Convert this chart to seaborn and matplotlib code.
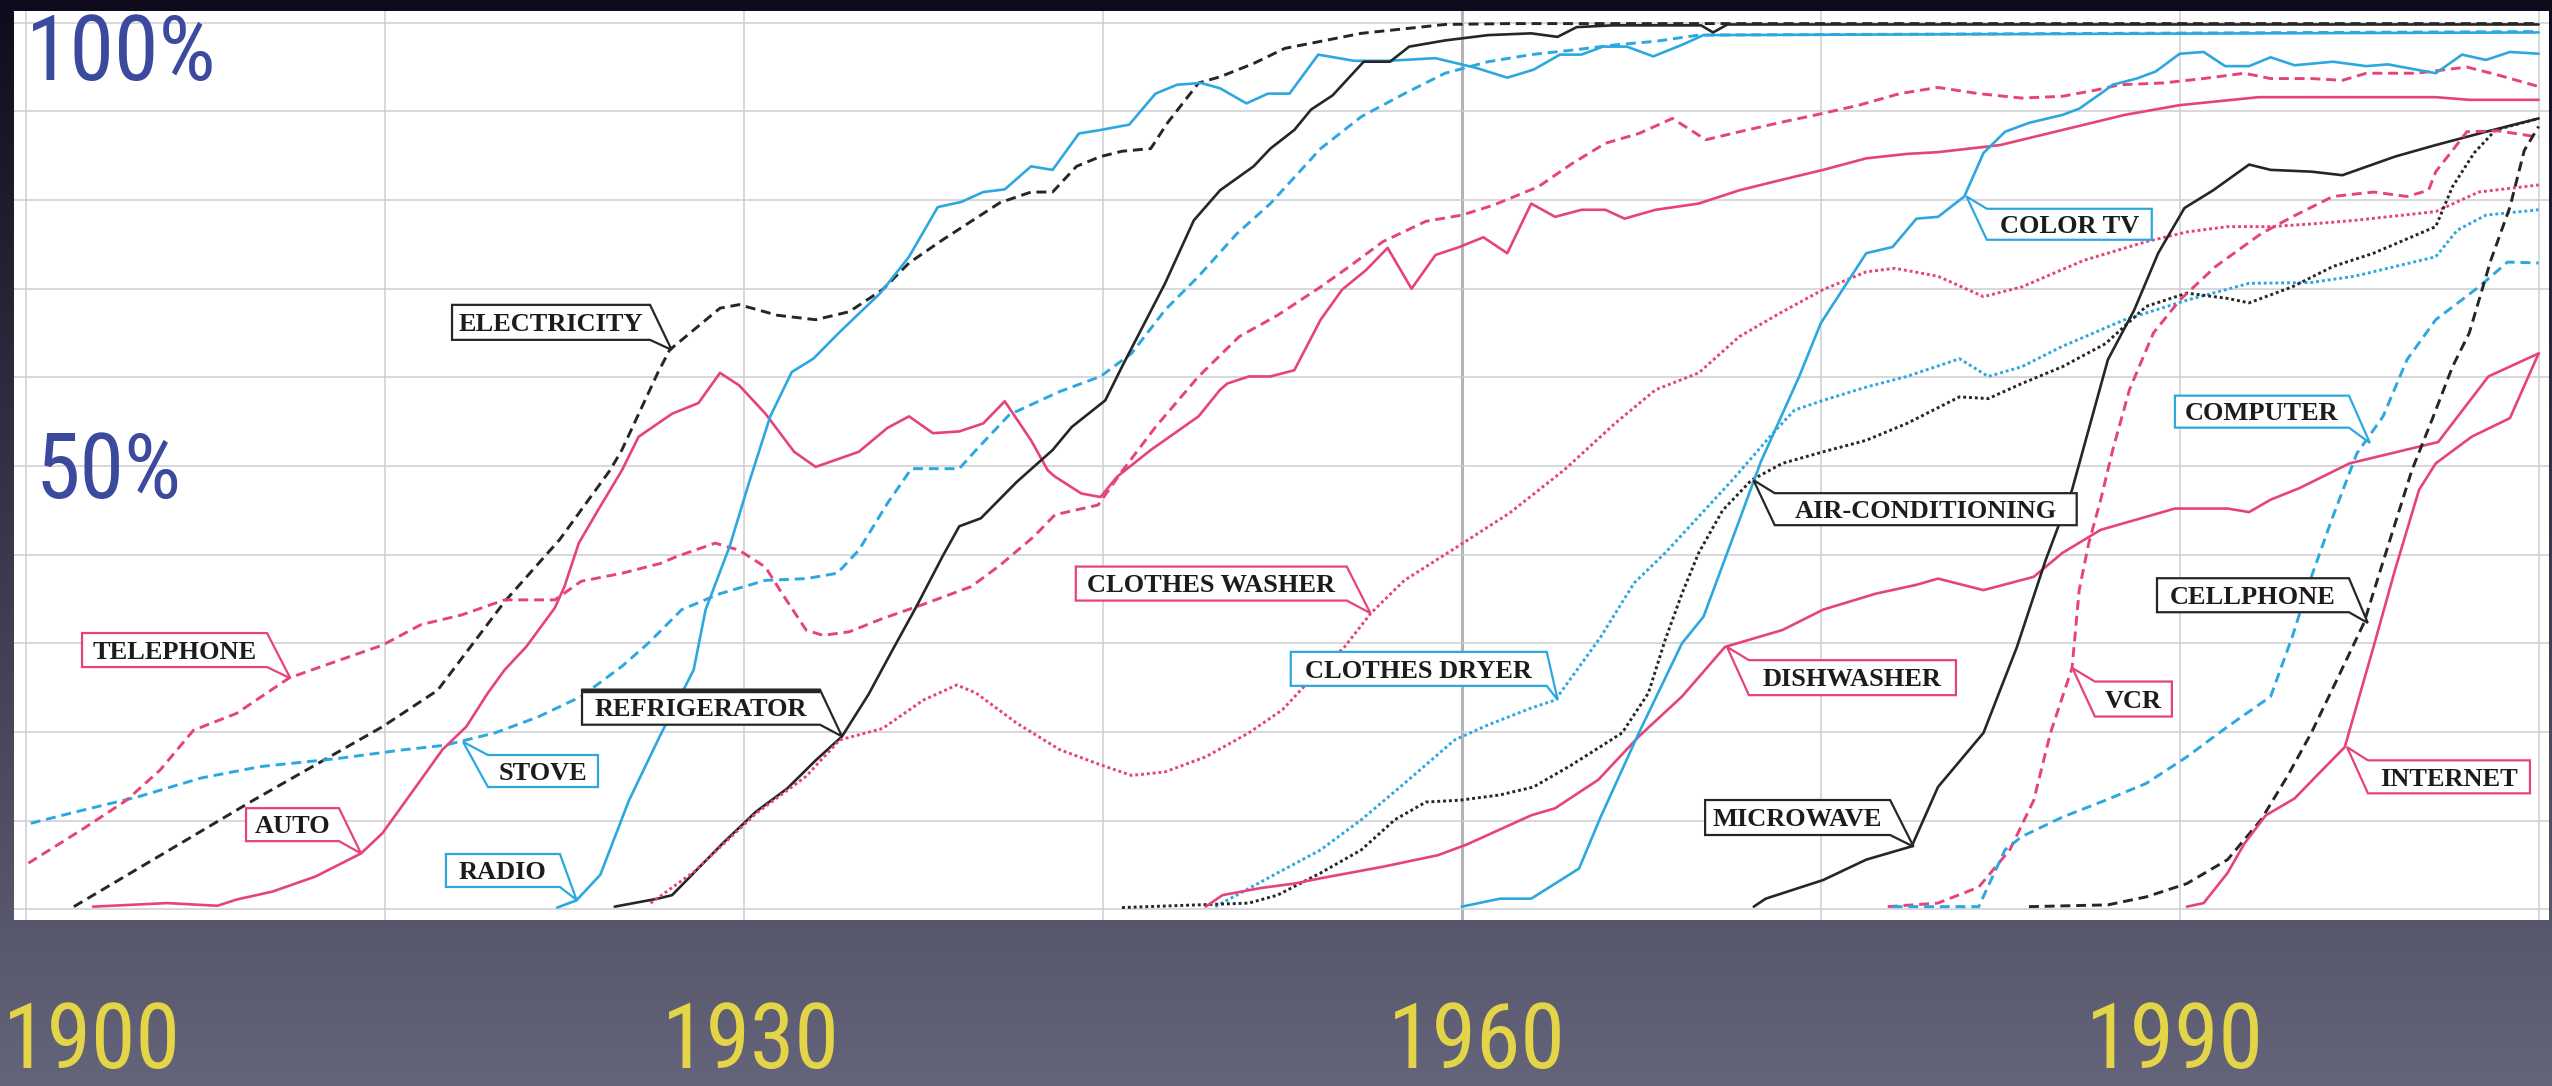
import numpy as np
import matplotlib
matplotlib.use("Agg")
import matplotlib.pyplot as plt
import seaborn as sns
from matplotlib import font_manager
from matplotlib.font_manager import FontProperties
from matplotlib.patches import Polygon
from matplotlib.lines import Line2D

# ------------------------------------------------------------------ data
electricity_year = [1902.0, 1909.5, 1914.9, 1917.2, 1920.0, 1922.3, 1924.4, 1924.9, 1926.4, 1926.9, 1929.0, 1929.8,
                    1931.4, 1933.0, 1934.4, 1935.8, 1936.9, 1938.3, 1940.7, 1942.0, 1942.9, 1943.9, 1944.9, 1945.8,
                    1947.0, 1947.7, 1949.0, 1949.9, 1951.3, 1952.6, 1955.8, 1959.3, 1962.0, 2005.0]
electricity_pct = [0.3, 12.3, 20.6, 24.7, 34.7, 41.7, 49.5, 51.8, 60.5, 63.1, 67.8, 68.2,
                   67.0, 66.5, 67.4, 69.9, 72.9, 75.5, 79.7, 80.9, 80.9, 83.8, 84.9, 85.5,
                   85.8, 88.7, 93.2, 93.9, 95.4, 97.1, 98.8, 99.8, 99.9, 99.9]

radio_year = [1922.2, 1923.0, 1924.0, 1925.2, 1926.5, 1927.9, 1928.4, 1929.4, 1930.2, 1931.1, 1932.0, 1932.9,
              1934.0, 1935.7, 1936.9, 1938.1, 1939.1, 1940.0, 1940.9, 1942.0, 1942.9, 1944.0, 1944.9, 1946.1,
              1947.2, 1948.1, 1949.1, 1949.9, 1951.0, 1951.9, 1952.8, 1954.0, 1955.5, 1956.9, 1958.9, 1960.6,
              1961.9, 1963.0, 1964.1, 1965.0, 1965.9, 1966.9, 1968.0, 1969.2, 1970.1, 2005.0]
radio_pct = [0.2, 1.0, 3.9, 12.3, 19.6, 27.0, 33.8, 40.9, 48.0, 55.6, 60.6, 62.1,
             65.1, 69.5, 73.6, 79.2, 79.8, 80.9, 81.2, 83.8, 83.4, 87.5, 87.9, 88.5,
             92.0, 93.0, 93.2, 92.6, 90.9, 92.0, 92.0, 96.4, 95.7, 95.7, 96.0, 94.9,
             93.8, 94.7, 96.4, 96.4, 97.3, 97.3, 96.2, 97.5, 98.6, 98.9]

refrigerator_year = [1924.6, 1926.4, 1927.0, 1929.1, 1930.5, 1931.8, 1933.0, 1934.1, 1935.2, 1936.2, 1937.2,
                     1938.3, 1939.0, 1939.9, 1941.4, 1942.9, 1943.7, 1945.1, 1945.8, 1947.6, 1948.8, 1949.9,
                     1951.3, 1952.0, 1953.0, 1953.7, 1954.6, 1955.9, 1957.0, 1957.8, 1959.3, 1961.1, 1962.9,
                     1964.0, 1964.8, 1966.3, 1970.0, 1970.5, 1971.1, 2005.0]
refrigerator_pct = [0.3, 1.2, 1.6, 7.4, 11.0, 13.6, 16.8, 19.5, 24.2, 29.2, 34.1,
                    39.8, 43.2, 44.1, 48.2, 51.8, 54.4, 57.4, 61.2, 70.6, 77.7, 81.1,
                    83.8, 85.8, 87.9, 90.2, 91.8, 95.6, 95.6, 97.3, 98.0, 98.6, 98.8,
                    98.4, 99.5, 99.7, 99.7, 98.9, 99.8, 99.8]

stove_year = [1900.2, 1902.4, 1904.7, 1907.3, 1909.8, 1913.0, 1915.8, 1917.5, 1919.6, 1921.4, 1923.2, 1924.9,
              1926.0, 1927.4, 1929.0, 1930.9, 1932.6, 1933.9, 1934.8, 1936.0, 1937.0, 1939.0, 1939.7, 1941.1,
              1943.2, 1944.9, 1946.2, 1947.6, 1949.0, 1950.6, 1952.0, 1954.1, 1955.8, 1957.6, 1959.3, 1961.1,
              1962.9, 1964.6, 1966.4, 1968.1, 1969.9, 2005.0]
stove_pct = [9.7, 11.2, 12.7, 14.8, 16.1, 17.0, 18.0, 18.5, 19.9, 21.7, 24.0, 27.4,
             30.0, 33.8, 35.6, 37.1, 37.3, 37.9, 40.5, 45.8, 49.7, 49.7, 51.8, 55.8,
             58.4, 60.1, 62.7, 67.6, 71.4, 76.2, 79.6, 85.8, 89.4, 92.0, 94.3, 95.6,
             96.4, 96.9, 97.5, 97.9, 98.6, 99.0]

telephone_year = [1900.1, 1902.4, 1904.2, 1905.6, 1907.0, 1908.8, 1911.0, 1913.1, 1914.9, 1916.5,
                  1918.2, 1920.0, 1922.1, 1923.2, 1924.9, 1926.5, 1927.2, 1928.8, 1929.8, 1930.9,
                  1931.6, 1932.6, 1933.3, 1934.4, 1935.8, 1937.4, 1939.5, 1940.7, 1942.1, 1943.0,
                  1944.8, 1945.8, 1947.2, 1949.0, 1950.7, 1952.3, 1954.1, 1955.3, 1956.7, 1958.5,
                  1960.0, 1961.3, 1963.2, 1964.6, 1966.0, 1967.4, 1968.8, 1970.2, 1971.6, 1973.4,
                  1974.8, 1976.6, 1978.3, 1979.9, 1981.6, 1983.4, 1985.1, 1986.5, 1987.5, 1989.3,
                  1991.0, 1992.7, 1993.8, 1995.5, 1996.8, 1997.8, 1999.9, 2002.0, 2003.3, 2005.0]
telephone_pct = [5.2, 9.1, 12.3, 15.7, 20.2, 22.1, 26.1, 28.1, 29.8, 32.1,
                 33.2, 34.9, 34.9, 37.0, 37.9, 39.0, 39.8, 41.3, 40.5, 38.6,
                 35.6, 31.5, 30.9, 31.3, 32.8, 34.3, 36.4, 38.8, 42.0, 44.5,
                 45.6, 49.4, 54.4, 60.1, 64.6, 67.0, 70.2, 72.5, 75.3, 77.6,
                 78.3, 79.4, 81.5, 84.1, 86.4, 87.5, 89.2, 86.8, 87.7, 88.8,
                 89.6, 90.7, 92.0, 92.7, 92.0, 91.5, 91.7, 92.4, 93.0, 93.2,
                 93.7, 94.3, 93.7, 93.7, 93.5, 94.3, 94.3, 95.0, 94.1, 92.8]

auto_year = [1902.8, 1905.9, 1908.0, 1908.8, 1910.3, 1912.1, 1914.0, 1914.9, 1916.1, 1917.4,
             1918.4, 1919.3, 1920.0, 1920.9, 1922.1, 1922.5, 1923.1, 1923.9, 1924.9, 1925.6,
             1927.0, 1928.1, 1929.0, 1929.8, 1930.9, 1932.1, 1933.0, 1934.8, 1936.0, 1936.9,
             1937.9, 1939.0, 1940.0, 1940.9, 1942.0, 1942.7, 1943.0, 1944.1, 1944.9, 1945.6,
             1947.0, 1949.0, 1949.9, 1950.2, 1951.1, 1952.0, 1953.0, 1954.1, 1955.0, 1956.0,
             1956.9, 1957.9, 1958.9, 1959.9, 1960.9, 1961.9, 1962.9, 1963.9, 1965.0, 1966.0,
             1966.8, 1968.1, 1969.9, 1971.6, 1973.4, 1975.1, 1976.9, 1978.6, 1979.9, 1982.5,
             1985.1, 1987.7, 1990.0, 1993.3, 2000.7, 2002.1, 2005.0]
auto_pct = [0.3, 0.7, 0.4, 1.1, 2.0, 3.7, 6.3, 8.6, 13.1, 18.0,
            20.6, 24.4, 27.0, 29.6, 34.0, 36.4, 41.3, 45.0, 49.5, 53.3,
            55.9, 57.1, 60.5, 59.1, 55.9, 51.6, 49.9, 51.6, 54.3, 55.6,
            53.7, 53.9, 54.8, 57.3, 52.9, 49.5, 48.8, 46.9, 46.5, 48.8,
            51.8, 55.6, 58.6, 59.3, 60.1, 60.1, 60.8, 66.5, 69.9, 72.1,
            74.6, 70.0, 73.8, 74.7, 75.8, 74.0, 79.6, 78.1, 78.9, 78.9,
            77.9, 78.9, 79.6, 81.1, 82.3, 83.4, 84.7, 85.2, 85.4, 86.2,
            87.9, 89.6, 90.7, 91.6, 91.6, 91.3, 91.3]

washer_year = [1926.1, 1927.9, 1930.5, 1932.6, 1934.0, 1935.8, 1937.5, 1938.9, 1939.7, 1941.4,
               1943.2, 1944.9, 1946.2, 1947.6, 1949.3, 1951.1, 1952.5, 1953.4, 1955.1, 1956.2,
               1957.6, 1959.7, 1962.0, 1964.3, 1966.4, 1968.1, 1969.9, 1971.6, 1973.4, 1975.1,
               1976.9, 1978.1, 1979.9, 1981.8, 1983.4, 1986.0, 1988.6, 1990.3, 1992.0, 1993.8,
               1995.5, 1997.3, 2000.7, 2002.5, 2005.0]
washer_pct = [0.7, 4.2, 10.8, 15.0, 19.1, 20.4, 23.6, 25.3, 24.4, 21.0,
              18.0, 16.3, 15.1, 15.5, 17.2, 19.9, 22.5, 25.1, 29.6, 33.4,
              37.1, 40.7, 44.7, 49.6, 54.8, 58.6, 60.5, 64.6, 67.4, 69.9,
              71.9, 72.3, 71.4, 69.1, 70.2, 73.2, 75.3, 76.4, 77.0, 77.0,
              77.3, 77.7, 78.7, 80.9, 81.7]

dryer_year = [1949.7, 1952.3, 1954.1, 1955.8, 1957.6, 1959.7, 1961.1, 1962.9, 1963.9, 1964.6,
              1965.8, 1967.2, 1968.5, 1969.9, 1971.3, 1973.0, 1973.9, 1975.1, 1976.9, 1978.6,
              1980.8, 1982.0, 1983.4, 1985.1, 1987.7, 1990.3, 1992.9, 1995.5, 1997.3, 1999.0,
              2000.7, 2001.6, 2002.8, 2005.0]
dryer_pct = [0.3, 4.1, 6.7, 10.1, 14.2, 19.1, 20.8, 22.7, 23.6, 26.2,
             30.7, 36.8, 40.2, 44.3, 48.4, 53.7, 56.3, 57.4, 58.9, 60.1,
             62.1, 60.1, 61.2, 63.5, 66.5, 68.7, 70.6, 70.7, 71.4, 72.5,
             73.6, 76.6, 78.3, 78.9]

aircon_year = [1945.8, 1951.1, 1952.3, 1954.1, 1955.8, 1957.2, 1958.5, 1959.9, 1961.6, 1963.0,
               1964.6, 1966.7, 1967.8, 1968.5, 1969.2, 1969.9, 1970.9, 1972.1, 1973.4, 1975.1,
               1976.9, 1978.6, 1980.8, 1982.0, 1983.4, 1985.1, 1986.9, 1988.6, 1990.3, 1992.0,
               1992.9, 1994.7, 1996.4, 1998.1, 2000.7, 2001.4, 2002.3, 2003.2, 2005.0]
aircon_pct = [0.2, 0.7, 1.6, 4.1, 6.7, 10.1, 12.1, 12.3, 12.9, 13.8,
              16.3, 19.9, 24.4, 30.4, 35.6, 40.2, 45.0, 48.4, 50.3, 51.6,
              52.9, 54.8, 57.8, 57.6, 59.3, 61.2, 63.8, 68.0, 69.5, 68.9,
              68.4, 70.2, 72.5, 74.0, 77.0, 81.5, 85.3, 87.9, 89.2]

dishwasher_year = [1949.3, 1950.0, 1951.6, 1953.0, 1954.1, 1956.7, 1959.0, 1960.2, 1962.9, 1963.9,
                   1965.7, 1967.4, 1969.2, 1971.0, 1973.4, 1975.1, 1977.3, 1979.0, 1979.9, 1981.8,
                   1983.9, 1985.1, 1986.7, 1989.8, 1992.0, 1992.9, 1993.8, 1995.0, 1997.1, 2000.8,
                   2002.9, 2005.0]
dishwasher_pct = [0.3, 1.6, 2.4, 2.9, 3.5, 4.8, 6.1, 7.3, 10.6, 11.4,
                  14.6, 19.5, 24.0, 29.6, 31.5, 33.8, 35.6, 36.6, 37.3, 36.0,
                  37.5, 40.2, 42.8, 45.2, 45.2, 44.8, 46.2, 47.5, 50.3, 52.7,
                  60.1, 62.7]

colortv_year = [1960.0, 1961.6, 1962.9, 1964.9, 1965.8, 1967.4, 1969.2, 1970.1, 1971.6, 1972.5,
                1974.1, 1975.0, 1976.9, 1978.0, 1979.0, 1979.9, 1981.0, 1981.8, 1982.7, 1983.7,
                1985.1, 1985.8, 1986.8, 1987.2, 1988.2, 1989.0, 1990.0, 1991.0, 1991.9, 1992.9,
                1993.8, 1994.8, 1996.4, 1997.8, 1998.7, 1999.5, 2000.7, 2001.8, 2002.8, 2003.8, 2005.0]
colortv_pct = [0.3, 1.2, 1.2, 4.6, 10.4, 19.9, 30.0, 33.0, 43.9, 50.5,
               60.1, 66.1, 74.0, 74.7, 77.9, 78.1, 80.4, 85.3, 87.7, 88.7,
               89.6, 90.3, 92.2, 93.0, 93.7, 94.5, 96.5, 96.7, 95.1, 95.1,
               96.1, 95.2, 95.6, 95.1, 95.3, 94.9, 94.3, 96.4, 95.8, 96.7, 96.5]

microwave_year = [1972.2, 1972.7, 1975.1, 1976.9, 1978.8, 1979.9, 1981.8, 1983.2, 1984.4, 1985.5,
                  1987.0, 1988.1, 1989.1, 1990.2, 1991.4, 1992.9, 1993.8, 1995.5, 1996.8, 1999.0,
                  2000.7, 2002.8, 2005.0]
microwave_pct = [0.3, 1.2, 3.3, 5.6, 7.1, 13.8, 19.9, 29.6, 39.4, 47.3,
                 62.0, 67.6, 74.0, 79.1, 81.1, 84.0, 83.4, 83.2, 82.8, 84.9,
                 86.2, 87.7, 89.2]

vcr_year = [1977.8, 1979.9, 1981.6, 1982.9, 1983.9, 1984.6, 1985.5, 1985.8, 1986.2, 1986.7,
            1987.2, 1987.9, 1988.9, 1990.0, 1991.5, 1993.4, 1994.7, 1996.4, 1998.1, 1999.5,
            2000.4, 2000.7, 2001.4, 2002.0, 2003.3, 2005.0]
vcr_pct = [0.3, 0.7, 2.5, 6.7, 12.3, 19.9, 27.2, 36.0, 41.3, 46.2,
           51.8, 58.6, 65.0, 68.7, 72.5, 76.2, 78.1, 80.4, 80.9, 80.4,
           81.1, 83.2, 85.6, 87.7, 87.8, 87.1]

computer_year = [1978.0, 1981.6, 1982.7, 1983.4, 1985.1, 1986.9, 1988.6, 1990.3, 1992.0, 1993.8,
                 1994.7, 1995.5, 1996.4, 1997.4, 1998.5, 1999.5, 2000.7, 2002.5, 2003.7, 2005.0]
computer_pct = [0.3, 0.3, 6.7, 8.2, 10.4, 12.3, 14.2, 17.2, 20.6, 24.0,
                30.7, 37.5, 44.3, 51.4, 55.6, 62.0, 66.5, 70.2, 73.0, 72.9]

cellphone_year = [1983.7, 1987.0, 1988.6, 1990.3, 1992.0, 1993.4, 1994.5, 1995.5, 1996.5, 1997.7,
                  1998.3, 1999.0, 1999.7, 2000.6, 2001.4, 2002.1, 2003.0, 2003.8, 2004.4, 2005.0]
cellphone_pct = [0.3, 0.5, 1.4, 2.9, 5.6, 10.1, 15.0, 19.9, 25.5, 32.3,
                 37.5, 43.5, 49.5, 55.6, 61.2, 65.0, 73.2, 79.2, 85.6, 88.3]

internet_year = [1990.3, 1991.0, 1992.0, 1992.7, 1993.6, 1994.8, 1995.7, 1996.9, 1997.1, 1998.1,
                 1999.0, 2000.0, 2000.7, 2002.2, 2003.8, 2005.0]
internet_pct = [0.3, 0.7, 4.1, 7.4, 10.6, 12.5, 15.0, 18.3, 20.2, 29.6,
                38.3, 47.3, 50.3, 53.3, 55.4, 62.7]

# callout labels: text, anchor year, anchor percent
label_text = ["ELECTRICITY", "TELEPHONE", "AUTO", "STOVE", "RADIO", "REFRIGERATOR",
              "CLOTHES WASHER", "CLOTHES DRYER", "AIR-CONDITIONING", "DISHWASHER",
              "MICROWAVE", "COLOR TV", "COMPUTER", "CELLPHONE", "VCR", "INTERNET"]
label_year = [1926.98, 1911.05, 1914.0, 1918.26, 1923.01, 1934.10, 1956.18, 1964.01,
              1972.19, 1971.08, 1978.88, 1981.09, 1997.95, 1997.86, 1985.52, 1996.99]
label_pct = [63.1, 26.05, 6.3, 18.9, 1.05, 19.5, 33.4, 23.6,
             48.4, 29.6, 7.06, 80.4, 52.6, 32.3, 27.2, 18.3]

x_tick_labels = ["1900", "1930", "1960", "1990"]
y_tick_labels = ["100%", "50%"]

# ------------------------------------------------------------------ styling
PINK = "#e6437b"
BLUE = "#2ca8df"
BLACK = "#262626"

series = [
    (electricity_year, electricity_pct, BLACK, "dashed"),
    (stove_year, stove_pct, BLUE, "dashed"),
    (telephone_year, telephone_pct, PINK, "dashed"),
    (auto_year, auto_pct, PINK, "solid"),
    (radio_year, radio_pct, BLUE, "solid"),
    (refrigerator_year, refrigerator_pct, BLACK, "solid"),
    (washer_year, washer_pct, PINK, "dotted"),
    (dryer_year, dryer_pct, BLUE, "dotted"),
    (aircon_year, aircon_pct, BLACK, "dotted"),
    (dishwasher_year, dishwasher_pct, PINK, "solid"),
    (colortv_year, colortv_pct, BLUE, "solid"),
    (microwave_year, microwave_pct, BLACK, "solid"),
    (vcr_year, vcr_pct, PINK, "dashed"),
    (computer_year, computer_pct, BLUE, "dashed"),
    (cellphone_year, cellphone_pct, BLACK, "dashed"),
    (internet_year, internet_pct, PINK, "solid"),
]
label_color = [BLACK, PINK, PINK, BLUE, BLUE, BLACK, PINK, BLUE, BLACK, PINK,
               BLACK, BLUE, BLUE, BLACK, PINK, PINK]
# box centre offset from anchor (pixels, +x right, +y down) and box size (pixels)
label_offset = [(-120.6, -27.5), (-115.9, -28.3), (-68.5, -28.8), (80.0, 29.3), (-73.7, -29.5),
                (-141.0, -29.2), (-159.1, -29.6), (-139.0, -31.2), (172.2, 29.0), (125.5, 30.8),
                (-116.0, -29.2), (102.8, 27.8), (-108.0, -31.3), (-114.8, -27.7), (60.9, 30.9),
                (102.0, 29.8)]
label_size = [(198, 35), (185, 34), (93, 33), (110, 32), (114, 33), (238, 35), (271, 34), (256, 34),
              (302, 32), (207, 35), (185, 35), (165, 31), (174, 32), (192, 34), (77, 35), (162, 33)]

sns.set_theme(style="white")
flist = font_manager.fontManager.ttflist
avail = {f.name for f in flist}


def pick(cands, default):
    for c in cands:
        if c in avail:
            return c
    return default


SERIF = pick(["Liberation Serif", "DejaVu Serif"], "DejaVu Serif")
plt.rcParams["font.family"] = [pick(["Liberation Sans", "DejaVu Sans"], "DejaVu Sans"), "DejaVu Sans"]

# condensed sans for the big slide labels (Gill-Sans-like look)
cond_file = None
prefs = ["Liberation Sans Narrow", "DejaVu Sans Condensed", "Noto Sans Condensed", "Roboto Condensed",
         "Open Sans Condensed", "DejaVu Sans", "Noto Sans", "Open Sans", "Roboto"]
cands = []
for f in flist:
    st = str(f.stretch).lower()
    nm = f.name.lower()
    if (("condensed" in st or "narrow" in nm) and "mono" not in nm and f.style == "normal"
            and str(f.weight) in ("400", "normal", "regular", "book")):
        rank = next((i for i, p in enumerate(prefs) if p.lower() in nm), len(prefs))
        cands.append((rank, f.fname))
if cands:
    cands.sort()
    cond_file = cands[0][1]
BIG_FP = FontProperties(fname=cond_file) if cond_file else FontProperties(family="Liberation Sans")

W, H = 2552, 1086
fig = plt.figure(figsize=(W / 100, H / 100), dpi=100)

# background gradient
bg = fig.add_axes([0, 0, 1, 1])
t = np.linspace(0, 1, 400)[:, None, None]
top_c = np.array([16, 11, 28]) / 255
bot_c = np.array([100, 100, 122]) / 255
bg.imshow(top_c * (1 - t) + bot_c * t, aspect="auto", extent=[0, 1, 0, 1], interpolation="bilinear")
bg.set_axis_off()

PX_X0, PX_PER_YEAR = 26.0, 23.93
PX_Y0, PX_PER_PCT = 909.3, 8.866
L_PX, R_PX, T_PX, B_PX = 14, 2549, 11, 920
ax = fig.add_axes([L_PX / W, 1 - B_PX / H, (R_PX - L_PX) / W, (B_PX - T_PX) / H])
XLIM = (1900 + (L_PX - PX_X0) / PX_PER_YEAR, 1900 + (R_PX - PX_X0) / PX_PER_YEAR)
YLIM = ((PX_Y0 - B_PX) / PX_PER_PCT, (PX_Y0 - T_PX) / PX_PER_PCT)
ax.set_facecolor("white")

for yr in range(1900, 2006, 15):
    if yr == 1960:
        ax.axvline(yr, color="#b3b3bb", lw=2.2, zorder=1)
    else:
        ax.axvline(yr, color="#cdcdd3", lw=1.1, zorder=1)
for v in range(0, 101, 10):
    ax.axhline(v, color="#cdcdd3", lw=1.1, zorder=1)

styles = {"solid": dict(linestyle="-", linewidth=1.9),
          "dashed": dict(linestyle=(0, (3.4, 2.0)), linewidth=2.1),
          "dotted": dict(linestyle=(0, (1.0, 1.0)), linewidth=2.1)}
for yrs, vals, col, st in series:
    sns.lineplot(x=yrs, y=vals, ax=ax, color=col, estimator=None, sort=False,
                 errorbar=None, legend=False, zorder=3, **styles[st])

ax.set_xlim(*XLIM)
ax.set_ylim(*YLIM)
ax.set_xticks([])
ax.set_yticks([])
ax.set_xlabel("")
ax.set_ylabel("")
for s in ax.spines.values():
    s.set_visible(False)

inv = ax.transData.inverted()
for text, yr, pct, col, (dx, dy), (bw, bh) in zip(label_text, label_year, label_pct, label_color,
                                                  label_offset, label_size):
    tx, ty = ax.transData.transform((yr, pct))
    cx, cy = tx + dx, ty - dy
    L, R = cx - bw / 2, cx + bw / 2
    B, T = cy - bh / 2, cy + bh / 2
    if dx < 0:
        verts = [(L, T), (R, T), (tx, ty), (R, B), (L, B)]
    else:
        verts = [(L, T), (R, T), (R, B), (L, B), (tx, ty)]
    ax.add_patch(Polygon(inv.transform(verts), closed=True, facecolor="white", edgecolor=col,
                         linewidth=1.6, joinstyle="miter", zorder=6))
    if text == "REFRIGERATOR":
        p = inv.transform([(L, T - 1), (R, T - 1)])
        ax.add_line(Line2D(p[:, 0], p[:, 1], color=BLACK, lw=3.2, zorder=6.5, solid_capstyle="butt"))
    bx, by = inv.transform((cx, cy - 8.8))
    ax.text(bx, by, text, ha="center", va="baseline", fontsize=19, fontweight="bold",
            family=[SERIF, "DejaVu Serif"], color="#1c1c1c", zorder=7)

# big slide labels: size so that "1930" is about 176 px wide and digits ~66 px tall
renderer = fig.canvas.get_renderer()
probe = fig.text(0.5, 0.5, "1930", fontproperties=BIG_FP, fontsize=66)
pw = probe.get_window_extent(renderer).width
probe.remove()
big_size = 66 * min(1.0, 178.0 / pw)
BIG_FP.set_size(big_size)

BLUE_TXT = "#3c4a9e"
YEL_TXT = "#e3d448"
fig.text(26 / W, 1 - 80 / H, y_tick_labels[0], ha="left", va="baseline", fontproperties=BIG_FP,
         color=BLUE_TXT, zorder=10)
fig.text(36 / W, 1 - 498 / H, y_tick_labels[1], ha="left", va="baseline", fontproperties=BIG_FP,
         color=BLUE_TXT, zorder=10)
for lab, xc in zip(x_tick_labels, [92, 751, 1477, 2175]):
    fig.text(xc / W, 1 - 1068 / H, lab, ha="center", va="baseline", fontproperties=BIG_FP, color=YEL_TXT)

fig.savefig("out.png", dpi=100)
